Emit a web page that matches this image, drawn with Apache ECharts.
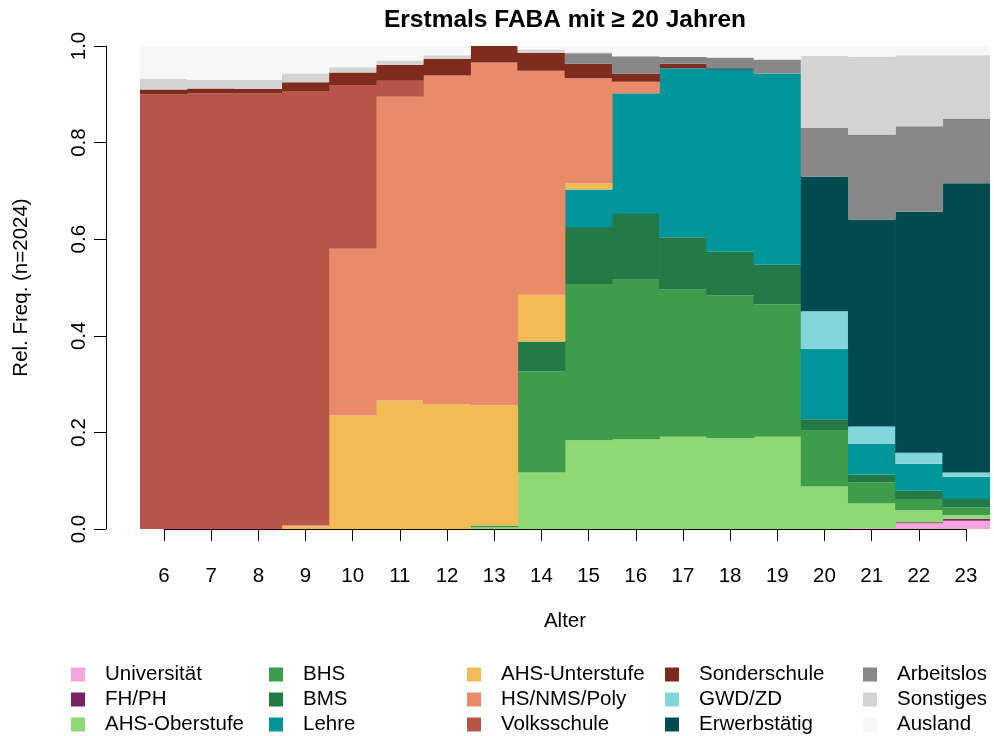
<!DOCTYPE html>
<html><head><meta charset="utf-8">
<script src="https://cdn.jsdelivr.net/npm/echarts@6/dist/echarts.min.js"></script>
<style>html,body{margin:0;padding:0;background:#fff}#c{width:994px;height:736px}</style>
</head><body><div id="c"></div>
<script>
// ---- data ----
const ages = ['6','7','8','9','10','11','12','13','14','15','16','17','18','19','20','21','22','23'];
const yTicks = ['0.0','0.2','0.4','0.6','0.8','1.0'];
//                    6     7     8     9     10    11    12    13    14    15    16    17    18    19    20    21    22    23
const universitaet = [0,    0,    0,    0,    0,    0,    0,    0,    0,    0,    0,    0,    0,    0,    0,    0.002,0.012,0.017];
const fhph         = [0,    0,    0,    0,    0,    0,    0,    0,    0,    0,    0,    0,    0,    0,    0,    0,    0.002,0.004];
const ahsOber      = [0,    0,    0,    0,    0,    0,    0,    0.003,0.117,0.184,0.186,0.191,0.188,0.191,0.088,0.051,0.025,0.008];
const bhs          = [0,    0,    0,    0,    0,    0,    0,    0.004,0.209,0.323,0.330,0.305,0.296,0.274,0.117,0.044,0.023,0.016];
const bms          = [0,    0,    0,    0,    0,    0,    0,    0,    0.062,0.118,0.136,0.108,0.090,0.082,0.022,0.016,0.017,0.017];
const lehre        = [0,    0,    0,    0,    0,    0,    0,    0,    0,    0.078,0.250,0.350,0.377,0.396,0.146,0.063,0.056,0.046];
const ahsUnter     = [0,    0,    0,    0.005,0.235,0.266,0.259,0.249,0.097,0.013,0,    0,    0,    0,    0,    0,    0,    0];
const hsNms        = [0,    0,    0,    0.003,0.345,0.629,0.680,0.710,0.464,0.217,0.024,0,    0,    0,    0,    0,    0,    0];
const volks        = [0.900,0.902,0.902,0.899,0.339,0.033,0,    0,    0,    0,    0,    0,    0,    0,    0,    0,    0,    0];
const sonder       = [0.010,0.010,0.009,0.018,0.026,0.033,0.034,0.034,0.037,0.030,0.017,0.009,0,    0,    0,    0,    0,    0];
const gwd          = [0,    0,    0,    0,    0,    0,    0,    0,    0,    0,    0,    0,    0,    0,    0.078,0.036,0.023,0.009];
const erwerb       = [0,    0,    0,    0,    0,    0,    0,    0,    0,    0,    0,    0,    0.003,0,    0.279,0.429,0.499,0.599];
const arbeitslos   = [0,    0,    0,    0,    0,    0,    0,    0,    0,    0.022,0.036,0.015,0.022,0.029,0.100,0.176,0.177,0.134];
const sonstiges    = [0.022,0.018,0.019,0.018,0.011,0.009,0.008,0,    0.007,0.002,0,    0,    0,    0,    0.150,0.161,0.147,0.131];
const ausland      = [0.068,0.070,0.070,0.057,0.044,0.030,0.019,0,    0.007,0.013,0.021,0.022,0.024,0.028,0.020,0.022,0.019,0.019];

const seriesNames = ['Universität','FH/PH','AHS-Oberstufe','BHS','BMS','Lehre','AHS-Unterstufe','HS/NMS/Poly','Volksschule','Sonderschule','GWD/ZD','Erwerbstätig','Arbeitslos','Sonstiges','Ausland'];
const seriesData = [universitaet,fhph,ahsOber,bhs,bms,lehre,ahsUnter,hsNms,volks,sonder,gwd,erwerb,arbeitslos,sonstiges,ausland];
const colors = ['#f4a6dc','#7b2263','#8ed973','#3f9c4b','#237a47','#009598','#f2bb55','#e98b69','#b85549','#7f2b1d','#82d5db','#004a50','#878787','#d3d3d3','#f7f7f7'];

// ---- chart ----
const FONT = '"Liberation Sans", Arial, Helvetica, sans-serif';
const FS = 20.5;
const chart = echarts.init(document.getElementById('c'), null, {renderer:'canvas'});

const series = seriesNames.map((n,i)=>({
  name:n, type:'bar', stack:'total', xAxisIndex:0, yAxisIndex:0,
  barWidth:'101.5%', barGap:'-100%',
  data: seriesData[i].map(v => v === 0 ? '-' : v),
  itemStyle:{color:colors[i], borderWidth:0},
  emphasis:{disabled:true}, silent:true
}));

const legendCols = [0,1,2,3,4].map(c=>seriesNames.slice(c*3,c*3+3));
const legendLefts = [71,269,467,665,863];
const legends = legendCols.map((names,c)=>({
  data:names, orient:'vertical', left:legendLefts[c], top:664, padding:0,
  itemWidth:14, itemHeight:14, itemGap:4, icon:'rect', selectedMode:false,
  itemStyle:{borderWidth:0},
  textStyle:{fontFamily:FONT, fontSize:FS, color:'#000', lineHeight:20, padding:[0,0,0,15]}
}));

chart.setOption({
  animation:false,
  backgroundColor:'#fff',
  textStyle:{fontFamily:FONT},
  grid:[
    {left:140, right:4, top:46, bottom:207},
    {left:164, right:28, top:46, bottom:207}
  ],
  xAxis:[
    {gridIndex:0, type:'category', data:ages, show:false},
    {gridIndex:1, type:'value', min:6, max:23, interval:1, offset:10,
     axisLine:{show:true, lineStyle:{color:'#000', width:1}},
     axisTick:{show:true, length:12, lineStyle:{color:'#000', width:1}},
     axisLabel:{margin:27, fontSize:FS, color:'#000', fontFamily:FONT,
       formatter:v=>ages[ages.indexOf(String(v))]},
     splitLine:{show:false},
     name:'Alter', nameLocation:'middle', nameGap:72,
     nameTextStyle:{fontSize:FS, color:'#000', fontFamily:FONT}}
  ],
  yAxis:[
    {gridIndex:0, type:'value', min:0, max:1, interval:0.2, offset:34,
     axisLine:{show:true, lineStyle:{color:'#000', width:1}},
     axisTick:{show:true, length:12, lineStyle:{color:'#000', width:1}},
     axisLabel:{rotate:90, margin:16, fontSize:FS, color:'#000', fontFamily:FONT,
       formatter:v=>yTicks[Math.round(v*5)]},
     splitLine:{show:false},
     name:'Rel. Freq. (n=2024)', nameLocation:'middle', nameGap:74,
     nameTextStyle:{fontSize:FS, color:'#000', fontFamily:FONT}},
    {gridIndex:1, type:'value', min:0, max:1, show:false}
  ],
  legend:legends,
  graphic:[{
    type:'text', x:565, y:20,
    style:{text:'Erstmals FABA mit ≥ 20 Jahren', font:'bold 24.5px '+FONT, fill:'#000', align:'center', verticalAlign:'middle'}
  }],
  series:series
});
</script>
</body></html>
